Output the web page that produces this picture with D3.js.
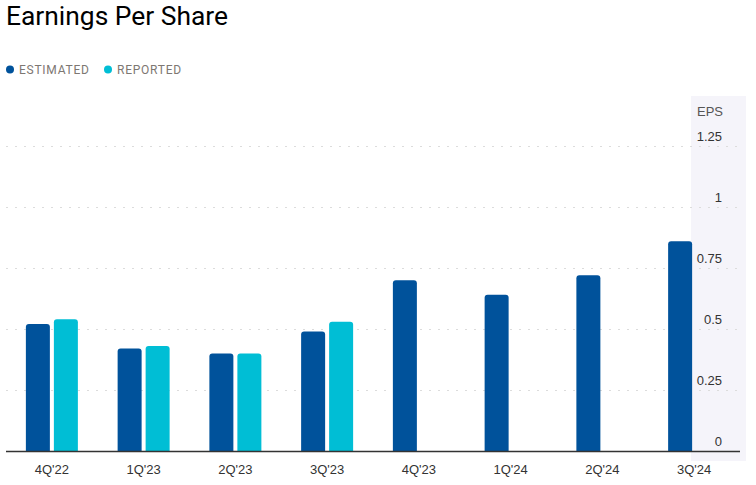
<!DOCTYPE html>
<html>
<head>
<meta charset="utf-8">
<script src="https://cdn.jsdelivr.net/npm/d3@7"></script>
<style>
  html, body { margin: 0; padding: 0; background: #fff; }
  svg { display: block; font-family: Roboto, "Noto Sans", sans-serif; }
</style>
</head>
<body>
<svg id="chart" width="756" height="485"></svg>
<script>
const categories = ["4Q'22", "1Q'23", "2Q'23", "3Q'23", "4Q'23", "1Q'24", "2Q'24", "3Q'24"];
const estimated = [0.52, 0.42, 0.40, 0.49, 0.70, 0.64, 0.72, 0.86];
const reported  = [0.54, 0.43, 0.40, 0.53, null, null, null, null];
const yTicks = [0, 0.25, 0.5, 0.75, 1, 1.25];
const yTickLabels = ["0", "0.25", "0.5", "0.75", "1", "1.25"];
const seriesNames = ["ESTIMATED", "REPORTED"];
const colors = ["#00529b", "#00bed5"];

const svg = d3.select("#chart");
const tickFont = "'Liberation Sans', Arial, sans-serif";

// Title
svg.append("text").attr("x", 6).attr("y", 25)
  .attr("font-size", 26.4).attr("fill", "#000").text("Earnings Per Share");

// Legend
const legendX = [10, 108];
seriesNames.forEach((n, i) => {
  svg.append("circle").attr("cx", legendX[i]).attr("cy", 69.5).attr("r", 4).attr("fill", colors[i]);
  svg.append("text").attr("x", legendX[i] + 9).attr("y", 73.5)
    .attr("font-size", 12).attr("letter-spacing", 0.75).attr("fill", "#7d7772").text(n);
});

const x = d3.scaleBand().domain(categories).range([6, 740]).paddingInner(0).paddingOuter(0);
const y = d3.scaleLinear().domain([0, 1.25]).range([451, 146]);

// Right shaded band
svg.append("rect").attr("x", 691).attr("y", 96).attr("width", 55).attr("height", 365).attr("fill", "#f5f4fa");

// Gridlines
svg.append("g").selectAll("line").data(yTicks.filter(d => d > 0)).join("line")
  .attr("x1", 6).attr("x2", 740)
  .attr("y1", d => Math.round(y(d)) + 0.5).attr("y2", d => Math.round(y(d)) + 0.5)
  .attr("stroke", "#dcdcdc").attr("stroke-width", 1).attr("stroke-dasharray", "2,7");

// Bars
const barW = 24, gap = 2;
function topRounded(x0, y0, w, h, r) {
  r = Math.min(r, h, w / 2);
  return `M${x0},${y0 + h}V${y0 + r}Q${x0},${y0} ${x0 + r},${y0}H${x0 + w - r}Q${x0 + w},${y0} ${x0 + w},${y0 + r}V${y0 + h}Z`;
}
const g = svg.append("g");
categories.forEach((c, i) => {
  const cx = x(c) + x.bandwidth() / 2;
  const e = estimated[i];
  if (e != null) {
    g.append("path").attr("fill", colors[0])
      .attr("d", topRounded(cx - gap - barW, y(e), barW, y(0) - y(e), 3));
  }
  const r = reported[i];
  if (r != null) {
    g.append("path").attr("fill", colors[1])
      .attr("d", topRounded(cx + gap, y(r), barW, y(0) - y(r), 3));
  }
});

// X axis line
svg.append("line").attr("x1", 6).attr("x2", 740).attr("y1", 451.5).attr("y2", 451.5)
  .attr("stroke", "#333").attr("stroke-width", 1.3);

// X axis labels
const xAxis = d3.axisBottom(x).tickSize(0).tickPadding(0).tickFormat(d => d);
const xg = svg.append("g").attr("transform", "translate(0,465)").call(xAxis);
xg.select(".domain").remove();
xg.selectAll("text").attr("font-size", 13).attr("fill", "#333").attr("font-family", tickFont);

// Y axis labels (right)
const yAxis = d3.axisRight(y).tickValues(yTicks).tickSize(0).tickPadding(0)
  .tickFormat((d, i) => yTickLabels[i]);
const yg = svg.append("g").attr("transform", "translate(722,-10)").call(yAxis);
yg.select(".domain").remove();
yg.selectAll("text").attr("text-anchor", "end").attr("font-size", 13)
  .attr("fill", "#333").attr("font-family", tickFont);

svg.append("text").attr("x", 697).attr("y", 116).attr("font-size", 13)
  .attr("font-family", tickFont).attr("fill", "#555").text("EPS");
</script>
</body>
</html>
